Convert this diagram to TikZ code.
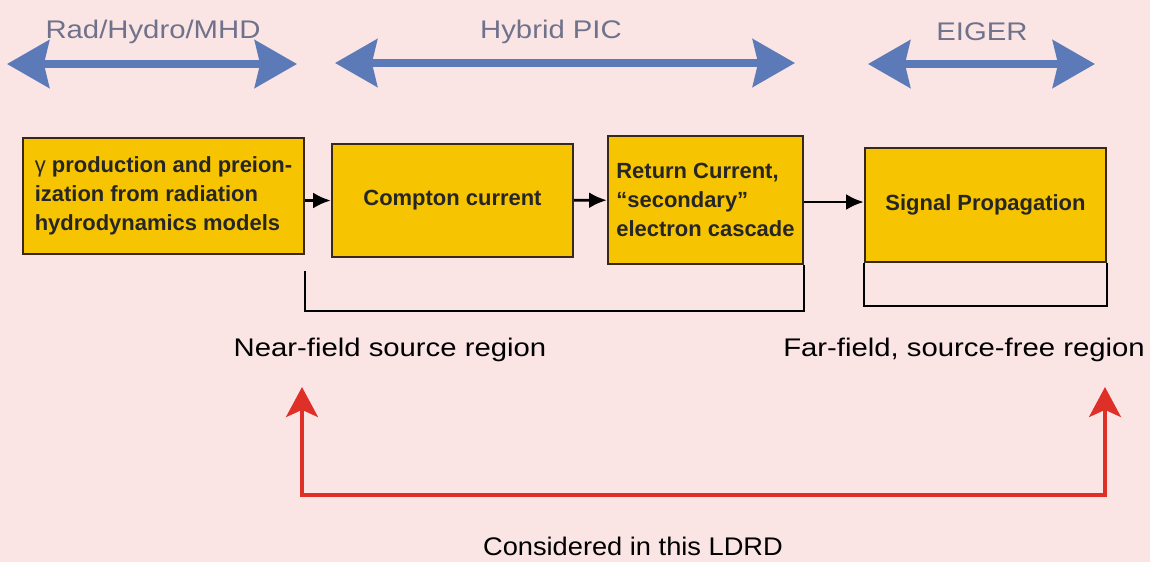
\documentclass[tikz,border=0pt]{standalone}
\usepackage{fontspec}
\setmainfont{Liberation Sans}
\usetikzlibrary{arrows.meta}
\definecolor{bgpink}{RGB}{250,229,228}
\definecolor{boxgold}{RGB}{246,196,0}
\definecolor{boxedge}{RGB}{55,40,25}
\definecolor{rangeblue}{RGB}{92,122,184}
\definecolor{rangetext}{RGB}{112,114,140}
\definecolor{ldrdred}{RGB}{222,48,38}

\begin{document}
\begin{tikzpicture}[x=0.02cm, y=-0.02cm,
    block/.style={draw=boxedge, line width=1.4pt, fill=boxgold, inner sep=0pt, text=black!85,
      font=\fontsize{12.5}{16.5}\selectfont\bfseries},
    spanarrow/.style={rangeblue, line width=4.2pt,
      {Stealth[length=24pt, width=27pt, inset=3pt]}-{Stealth[length=24pt, width=27pt, inset=3pt]}},
    spanlabel/.style={text=rangetext, font=\fontsize{14.5}{17}\selectfont, xscale=1.15, transform shape},
    flow/.style={line width=1.6pt, -{Latex[length=10pt, width=9pt]}},
    regionlabel/.style={font=\fontsize{14.5}{17}\selectfont, xscale=1.15, transform shape},
    ldrdarrow/.style={ldrdred, line width=2.8pt,
      {Stealth[length=17pt, width=18pt, inset=4pt]}-{Stealth[length=17pt, width=18pt, inset=4pt]}}]
  \fill[bgpink] (0,0) rectangle (1150,562);
  \useasboundingbox (0,0) rectangle (1150,562);

  \coordinate (radL) at (7,64);
  \coordinate (radR) at (297,64);
  \coordinate (picL) at (335,63);
  \coordinate (picR) at (795,63);
  \coordinate (eigL) at (868,64);
  \coordinate (eigR) at (1095,64);
  \draw[spanarrow] (radL) -- (radR);
  \draw[spanarrow] (picL) -- (picR);
  \draw[spanarrow] (eigL) -- (eigR);
  \node[spanlabel] (rad) at (153,32) {Rad/Hydro/MHD};
  \node[spanlabel] (pic) at (551,32) {Hybrid PIC};
  \node[spanlabel] (eiger) at (982,32) {EIGER};

  \node[block, minimum width=5.62cm, minimum height=2.32cm, align=left] (gamma) at (163.5,196)
    {{\mdseries γ} production and preion-\\ization from radiation\\hydrodynamics models};
  \node[block, minimum width=4.82cm, minimum height=2.26cm] (compton) at (452.5,200.5) {Compton current};
  \node[block, minimum width=3.9cm, minimum height=2.56cm, align=left] (cascade) at (705.5,200)
    {Return Current,\\“secondary”\\electron cascade};
  \node[block, minimum width=4.82cm, minimum height=2.28cm] (signal) at (985.5,205) {Signal Propagation};

  \draw[flow] (gamma.east |- compton.west) -- (compton.west);
  \draw[flow] (compton) -- (cascade);
  \draw[flow] (cascade.east |- 0,202) -- (signal.west |- 0,202);

  \draw[line width=1.1pt] (gamma.south east) ++(0,16) -- ++(0,40) -| (cascade.south east);
  \draw[line width=1.1pt] (signal.south west) -- ++(0,43) -| (signal.south east);

  \node[regionlabel] (near) at (390,350) {Near-field source region};
  \node[regionlabel] (far) at (964,350) {Far-field, source-free region};
  \node[regionlabel, xscale=0.93] (consid) at (633,546) {Considered in this LDRD};

  \coordinate (nearup) at (302,387);
  \coordinate (farup) at (1105,387);
  \draw[ldrdarrow] (nearup) -- ++(0,108) -| (farup);
\end{tikzpicture}
\end{document}
